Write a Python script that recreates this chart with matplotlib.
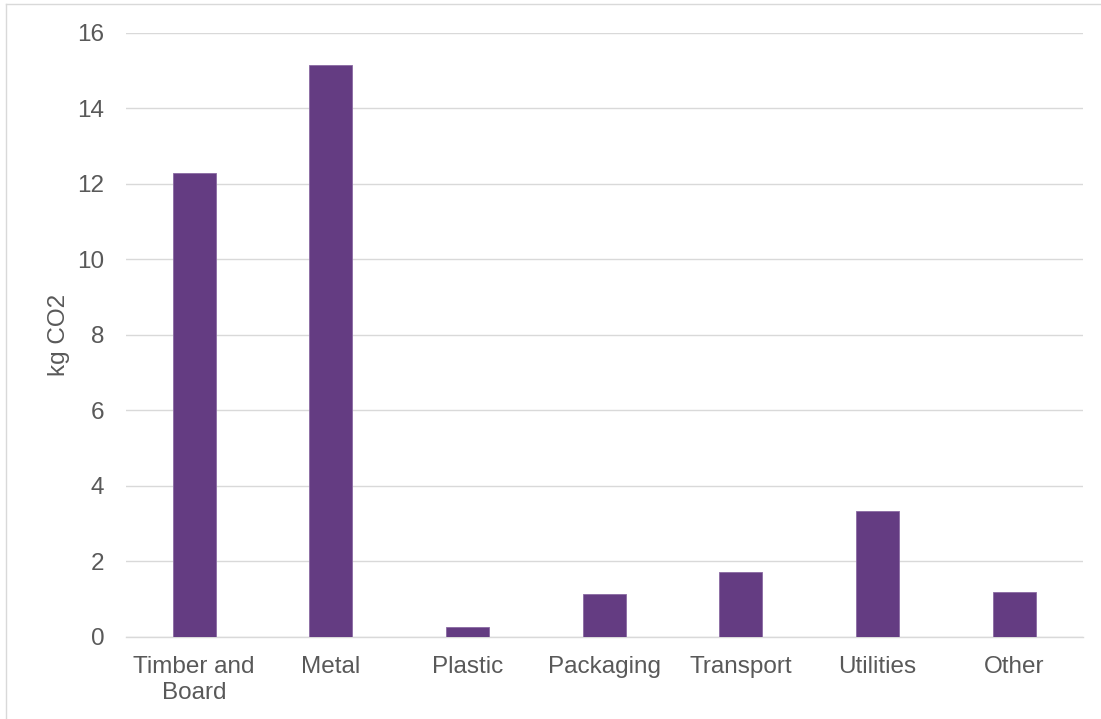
import matplotlib
matplotlib.use("Agg")
import matplotlib.pyplot as plt
from matplotlib.lines import Line2D

categories = ["Timber and\nBoard", "Metal", "Plastic", "Packaging", "Transport", "Utilities", "Other"]
values = [12.29, 15.15, 0.25, 1.13, 1.71, 3.34, 1.18]
y_ticks = [0, 2, 4, 6, 8, 10, 12, 14, 16]

plt.rcParams["font.family"] = ["Liberation Sans", "DejaVu Sans"]
text_color = "#595959"
grid_color = "#D9D9D9"
font_size = 17.5

fig = plt.figure(figsize=(11.01, 7.19), dpi=100)
ax = fig.add_axes([0.1142, 0.1145, 0.8691, 0.8400])

x = range(len(categories))
ax.bar(x, values, width=0.315, color="#643C82", edgecolor="#8A6AA3", linewidth=0.6, zorder=3)

ax.set_xlim(-0.5, len(categories) - 0.5)
ax.set_ylim(0, 16)
ax.set_yticks(y_ticks)
ax.set_xticks(list(x))
ax.set_xticklabels(categories, linespacing=1.2)
ax.tick_params(axis="both", length=0, labelsize=font_size, colors=text_color)
ax.tick_params(axis="y", pad=15.5)
ax.tick_params(axis="x", pad=14)

ax.grid(axis="y", color=grid_color, linewidth=1.0, zorder=0)
for side in ["top", "right", "left"]:
    ax.spines[side].set_visible(False)
ax.spines["bottom"].set_color(grid_color)
ax.spines["bottom"].set_linewidth(1.0)

ax.set_ylabel("kg CO2", fontsize=font_size, color=text_color)
ax.yaxis.set_label_coords(-0.058, 0.5)

# light chart border (left and top edges visible)
fig.add_artist(Line2D([6 / 1101, 6 / 1101], [0, 1 - 4 / 719], transform=fig.transFigure,
                      color=grid_color, linewidth=1.0))
fig.add_artist(Line2D([6 / 1101, 1], [1 - 4 / 719, 1 - 4 / 719], transform=fig.transFigure,
                      color=grid_color, linewidth=1.0))

fig.savefig("out.png", dpi=100)
